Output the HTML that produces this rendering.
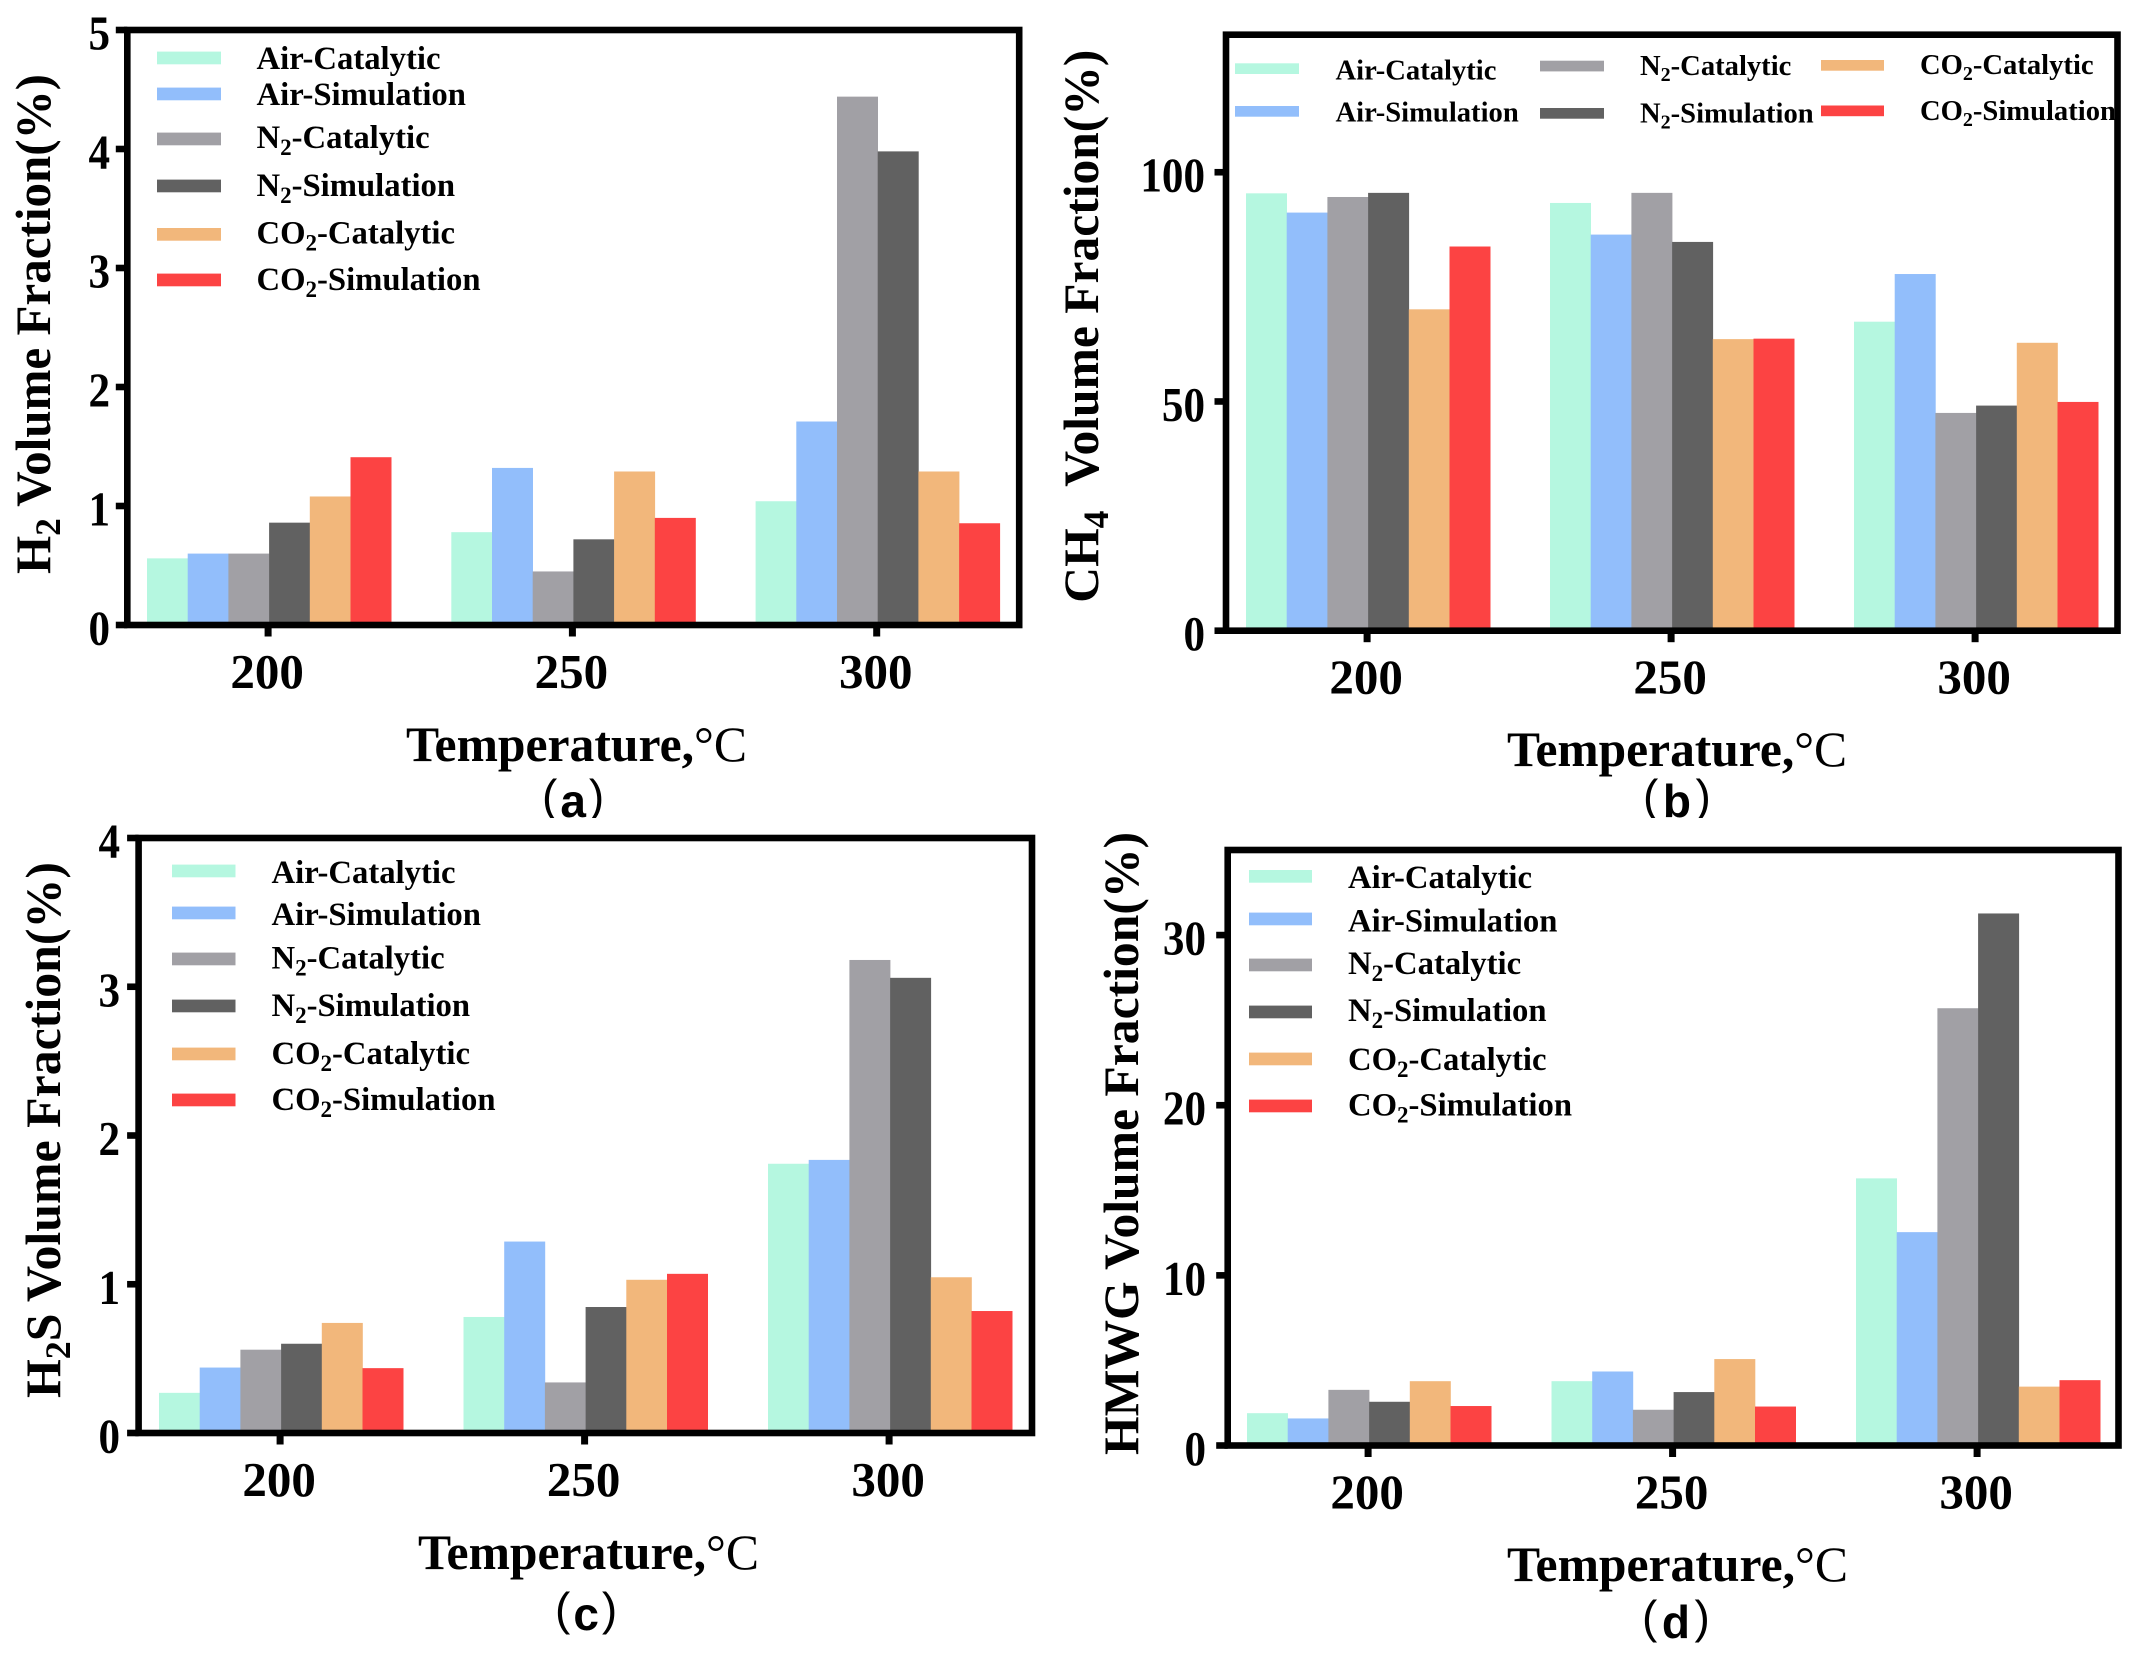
<!DOCTYPE html>
<html lang="en">
<head>
<meta charset="utf-8">
<title>Gas volume fractions versus temperature</title>
<style>
  html, body { margin: 0; padding: 0; background: #fff; }
  svg { display: block; }
  text { font-family: "Liberation Serif", "Noto Serif CJK SC", serif; font-weight: bold; fill: #000; }
  .leg { font-size: 32.7px; }
  .legb { font-size: 28.6px; }
  .ytitle, .xtitle { font-size: 50px; }
  .deg { font-weight: normal; }
  .cap { font-family: "Liberation Sans", "Noto Sans CJK SC", sans-serif; font-size: 46px; }
  .par { font-weight: normal; }
  .tick { font-size: 49px; }
  .c1 { fill: #B5F7E0; } .c2 { fill: #92BEFB; } .c3 { fill: #A1A0A5; }
  .c4 { fill: #616161; } .c5 { fill: #F2B77B; } .c6 { fill: #FC4343; }
</style>
</head>
<body>
<svg id="figure" xmlns="http://www.w3.org/2000/svg" width="2141" height="1658" viewBox="0 0 2141 1658">
  <rect width="2141" height="1658" fill="#fff"/>

  <!-- captions -->
  <text class="cap" x="542" y="817"><tspan class="par" dy="-5">(</tspan><tspan dx="3" dy="5">a</tspan><tspan class="par" dx="3" dy="-5">)</tspan></text>
  <text class="cap" x="1643" y="817"><tspan class="par" dy="-5">(</tspan><tspan dx="4.5" dy="5">b</tspan><tspan class="par" dx="4.5" dy="-5">)</tspan></text>
  <rect x="530" y="818" width="90" height="16" fill="#fff"/>
  <rect x="1630" y="818" width="95" height="16" fill="#fff"/>
  <text class="cap" x="555" y="1630"><tspan class="par" dy="-5">(</tspan><tspan dx="3" dy="5">c</tspan><tspan class="par" dx="3" dy="-5">)</tspan></text>
  <text class="cap" x="1642" y="1638"><tspan class="par" dy="-5">(</tspan><tspan dx="4.5" dy="5">d</tspan><tspan class="par" dx="4.5" dy="-5">)</tspan></text>

  <!-- panel a -->
  <g id="panel-a">
    <g id="marks-a"></g>
    <text class="ytitle" transform="translate(50,574) rotate(-90)" textLength="500" lengthAdjust="spacingAndGlyphs">H<tspan font-size="36" dy="10">2</tspan><tspan dy="-10"> Volume Fraction(%)</tspan></text>
    <text class="xtitle" x="406" y="761" textLength="341" lengthAdjust="spacingAndGlyphs">Temperature,<tspan class="deg">°C</tspan></text>
    <g>
      <rect class="c1" x="157" y="51.6" width="64" height="12.7"/>
      <text class="leg" x="256.5" y="69">Air-Catalytic</text>
      <rect class="c2" x="157" y="87.6" width="64" height="12.7"/>
      <text class="leg" x="256.5" y="105">Air-Simulation</text>
      <rect class="c3" x="157" y="132.6" width="64" height="12.7"/>
      <text class="leg" x="256.5" y="148">N<tspan font-size="23" dy="7">2</tspan><tspan dy="-7">-Catalytic</tspan></text>
      <rect class="c4" x="157" y="179.6" width="64" height="12.7"/>
      <text class="leg" x="256.5" y="196">N<tspan font-size="23" dy="7">2</tspan><tspan dy="-7">-Simulation</tspan></text>
      <rect class="c5" x="157" y="228" width="64" height="12.7"/>
      <text class="leg" x="256.5" y="243.5">CO<tspan font-size="23" dy="7">2</tspan><tspan dy="-7">-Catalytic</tspan></text>
      <rect class="c6" x="157" y="273.6" width="64" height="12.7"/>
      <text class="leg" x="256.5" y="290">CO<tspan font-size="23" dy="7">2</tspan><tspan dy="-7">-Simulation</tspan></text>
    </g>
  </g>

  <!-- panel b -->
  <g id="panel-b">
    <g id="marks-b"></g>
    <text class="ytitle" transform="translate(1098,602.7) rotate(-90)" textLength="553" lengthAdjust="spacingAndGlyphs">CH<tspan font-size="36" dy="10">4</tspan><tspan dy="-10">&#160; Volume Fraction(%)</tspan></text>
    <text class="xtitle" x="1507" y="766" textLength="340" lengthAdjust="spacingAndGlyphs">Temperature,<tspan class="deg">°C</tspan></text>
    <g>
      <rect class="c1" x="1235" y="63.3" width="64" height="10.7"/>
      <text class="legb" x="1335.5" y="79.3">Air-Catalytic</text>
      <rect class="c2" x="1235" y="106" width="64" height="10.7"/>
      <text class="legb" x="1335.5" y="121.7">Air-Simulation</text>
      <rect class="c3" x="1540" y="60.7" width="64" height="10.7"/>
      <text class="legb" x="1640" y="75">N<tspan font-size="20" dy="6">2</tspan><tspan dy="-6">-Catalytic</tspan></text>
      <rect class="c4" x="1540" y="108" width="64" height="10.7"/>
      <text class="legb" x="1640" y="122.5">N<tspan font-size="20" dy="6">2</tspan><tspan dy="-6">-Simulation</tspan></text>
      <rect class="c5" x="1821" y="60" width="63" height="10.7"/>
      <text class="legb" x="1920" y="74">CO<tspan font-size="20" dy="6">2</tspan><tspan dy="-6">-Catalytic</tspan></text>
      <rect class="c6" x="1821" y="105.5" width="63" height="10.7"/>
      <text class="legb" x="1920" y="120">CO<tspan font-size="20" dy="6">2</tspan><tspan dy="-6">-Simulation</tspan></text>
    </g>
  </g>

  <!-- panel c -->
  <g id="panel-c">
    <g id="marks-c"></g>
    <text class="ytitle" transform="translate(60,1398) rotate(-90)" textLength="536" lengthAdjust="spacingAndGlyphs">H<tspan font-size="36" dy="10">2</tspan><tspan dy="-10">S Volume Fraction(%)</tspan></text>
    <text class="xtitle" x="418" y="1569" textLength="341" lengthAdjust="spacingAndGlyphs">Temperature,<tspan class="deg">°C</tspan></text>
    <g>
      <rect class="c1" x="172" y="864.6" width="63.5" height="12.7"/>
      <text class="leg" x="271.5" y="883">Air-Catalytic</text>
      <rect class="c2" x="172" y="906.6" width="63.5" height="12.7"/>
      <text class="leg" x="271.5" y="925">Air-Simulation</text>
      <rect class="c3" x="172" y="952.6" width="63.5" height="12.7"/>
      <text class="leg" x="271.5" y="968.5">N<tspan font-size="23" dy="7">2</tspan><tspan dy="-7">-Catalytic</tspan></text>
      <rect class="c4" x="172" y="999.6" width="63.5" height="12.7"/>
      <text class="leg" x="271.5" y="1016">N<tspan font-size="23" dy="7">2</tspan><tspan dy="-7">-Simulation</tspan></text>
      <rect class="c5" x="172" y="1047.6" width="63.5" height="12.7"/>
      <text class="leg" x="271.5" y="1064">CO<tspan font-size="23" dy="7">2</tspan><tspan dy="-7">-Catalytic</tspan></text>
      <rect class="c6" x="172" y="1093.6" width="63.5" height="12.7"/>
      <text class="leg" x="271.5" y="1110">CO<tspan font-size="23" dy="7">2</tspan><tspan dy="-7">-Simulation</tspan></text>
    </g>
  </g>

  <!-- panel d -->
  <g id="panel-d">
    <g id="marks-d"></g>
    <text class="ytitle" transform="translate(1138,1455) rotate(-90)" textLength="623" lengthAdjust="spacingAndGlyphs">HMWG Volume Fraction(%)</text>
    <text class="xtitle" x="1507" y="1581" textLength="341" lengthAdjust="spacingAndGlyphs">Temperature,<tspan class="deg">°C</tspan></text>
    <g>
      <rect class="c1" x="1249" y="870" width="63" height="12.7"/>
      <text class="leg" x="1348" y="888">Air-Catalytic</text>
      <rect class="c2" x="1249" y="912.6" width="63" height="12.7"/>
      <text class="leg" x="1348" y="931.5">Air-Simulation</text>
      <rect class="c3" x="1249" y="958.6" width="63" height="12.7"/>
      <text class="leg" x="1348" y="974">N<tspan font-size="23" dy="7">2</tspan><tspan dy="-7">-Catalytic</tspan></text>
      <rect class="c4" x="1249" y="1005.6" width="63" height="12.7"/>
      <text class="leg" x="1348" y="1021">N<tspan font-size="23" dy="7">2</tspan><tspan dy="-7">-Simulation</tspan></text>
      <rect class="c5" x="1249" y="1052.6" width="63" height="12.7"/>
      <text class="leg" x="1348" y="1070">CO<tspan font-size="23" dy="7">2</tspan><tspan dy="-7">-Catalytic</tspan></text>
      <rect class="c6" x="1249" y="1099.6" width="63" height="12.7"/>
      <text class="leg" x="1348" y="1115.5">CO<tspan font-size="23" dy="7">2</tspan><tspan dy="-7">-Simulation</tspan></text>
    </g>
  </g>
</svg>

<script>
// Shared categories and series keys
const categories = [200, 250, 300];
const seriesKeys = ['air-catalytic', 'air-simulation', 'n2-catalytic', 'n2-simulation', 'co2-catalytic', 'co2-simulation'];
const seriesClasses = ['c1', 'c2', 'c3', 'c4', 'c5', 'c6'];

// Panel (a) H2
const h2Ticks = [0, 1, 2, 3, 4, 5];
const h2AirCatalytic = [0.56, 0.78, 1.04];
const h2AirSimulation = [0.60, 1.32, 1.71];
const h2N2Catalytic = [0.60, 0.45, 4.44];
const h2N2Simulation = [0.86, 0.72, 3.98];
const h2Co2Catalytic = [1.08, 1.29, 1.29];
const h2Co2Simulation = [1.41, 0.90, 0.855];

// Panel (b) CH4
const ch4Ticks = [0, 50, 100];
const ch4AirCatalytic = [95.4, 93.3, 67.4];
const ch4AirSimulation = [91.2, 86.4, 77.8];
const ch4N2Catalytic = [94.6, 95.5, 47.5];
const ch4N2Simulation = [95.5, 84.8, 49.1];
const ch4Co2Catalytic = [70.1, 63.6, 62.8];
const ch4Co2Simulation = [83.8, 63.7, 49.9];

// Panel (c) H2S
const h2sTicks = [0, 1, 2, 3, 4];
const h2sAirCatalytic = [0.27, 0.78, 1.81];
const h2sAirSimulation = [0.44, 1.287, 1.836];
const h2sN2Catalytic = [0.56, 0.34, 3.18];
const h2sN2Simulation = [0.60, 0.847, 3.06];
const h2sCo2Catalytic = [0.74, 1.03, 1.047];
const h2sCo2Simulation = [0.436, 1.07, 0.82];

// Panel (d) HMWG
const hmwgTicks = [0, 10, 20, 30];
const hmwgAirCatalytic = [1.9, 3.78, 15.7];
const hmwgAirSimulation = [1.59, 4.35, 12.54];
const hmwgN2Catalytic = [3.27, 2.1, 25.7];
const hmwgN2Simulation = [2.57, 3.14, 31.27];
const hmwgCo2Catalytic = [3.78, 5.08, 3.46];
const hmwgCo2Simulation = [2.32, 2.29, 3.84];

const SVG_NS = 'http://www.w3.org/2000/svg';

function drawPanel(cfg, ticks, series) {
  const root = document.getElementById(cfg.id);
  const barW = cfg.barW;
  const xBar = function (g, s) { return cfg.barStart + g * cfg.step + s * barW; };
  const xTick = function (g) { return xBar(g, 3) - 1; };
  const yVal = function (v) { return cfg.bottom - (v / cfg.yMax) * (cfg.bottom - cfg.top); };
  const SP = 6.6;

  series.forEach(function (vals, s) {
    vals.forEach(function (v, g) {
      const bar = document.createElementNS(SVG_NS, 'rect');
      bar.setAttribute('class', seriesClasses[s]);
      bar.setAttribute('x', xBar(g, s));
      bar.setAttribute('y', yVal(v));
      bar.setAttribute('width', barW + 0.3);
      bar.setAttribute('height', cfg.bottom - yVal(v));
      
      
      root.appendChild(bar);
    });
  });

  // Frame
  const frame = document.createElementNS(SVG_NS, 'rect');
  frame.setAttribute('x', cfg.left);
  frame.setAttribute('y', cfg.top);
  frame.setAttribute('width', cfg.right - cfg.left);
  frame.setAttribute('height', cfg.bottom - cfg.top);
  frame.setAttribute('fill', 'none');
  frame.setAttribute('stroke', '#000');
  frame.setAttribute('stroke-width', SP);
  
  
  root.appendChild(frame);

  // Y axis ticks
  ticks.forEach(function (t) {
    const y = yVal(t);
    const mark = document.createElementNS(SVG_NS, 'rect');
    mark.setAttribute('x', cfg.left - 11.5);
    mark.setAttribute('y', y - SP / 2);
    mark.setAttribute('width', 11.5);
    mark.setAttribute('height', SP);
    
    
    root.appendChild(mark);

    const label = document.createElementNS(SVG_NS, 'text');
    label.setAttribute('class', 'tick');
    label.setAttribute('transform', 'translate(' + cfg.yLabelX + ',' + (y + 19.5) + ') scale(0.88,1)');
    label.setAttribute('text-anchor', 'end');
    
    
    label.textContent = t;
    root.appendChild(label);
  });

  // X axis ticks
  categories.forEach(function (c, g) {
    const x = xTick(g);
    const mark = document.createElementNS(SVG_NS, 'rect');
    mark.setAttribute('x', x - 3.5);
    mark.setAttribute('y', cfg.bottom);
    mark.setAttribute('width', 7);
    mark.setAttribute('height', 11.5);
    
    
    root.appendChild(mark);

    const label = document.createElementNS(SVG_NS, 'text');
    label.setAttribute('class', 'tick');
    label.setAttribute('x', x - 1);
    label.setAttribute('y', cfg.bottom + 63);
    label.setAttribute('text-anchor', 'middle');
    
    
    label.textContent = c;
    root.appendChild(label);
  });
}

drawPanel({ id: 'marks-a', left: 127.3, right: 1019.2, top: 30, bottom: 625, barStart: 147, step: 304.3, barW: 40.7, yMax: 5, yLabelX: 110 },
  h2Ticks, [h2AirCatalytic, h2AirSimulation, h2N2Catalytic, h2N2Simulation, h2Co2Catalytic, h2Co2Simulation]);
drawPanel({ id: 'marks-b', left: 1226, right: 2117.5, top: 34.7, bottom: 630.7, barStart: 1246, step: 304, barW: 40.7, yMax: 130, yLabelX: 1205 },
  ch4Ticks, [ch4AirCatalytic, ch4AirSimulation, ch4N2Catalytic, ch4N2Simulation, ch4Co2Catalytic, ch4Co2Simulation]);
drawPanel({ id: 'marks-c', left: 138.6, right: 1032, top: 838, bottom: 1433, barStart: 159, step: 304.5, barW: 40.7, yMax: 4, yLabelX: 120 },
  h2sTicks, [h2sAirCatalytic, h2sAirSimulation, h2sN2Catalytic, h2sN2Simulation, h2sCo2Catalytic, h2sCo2Simulation]);
drawPanel({ id: 'marks-d', left: 1227.7, right: 2118.5, top: 850, bottom: 1445.5, barStart: 1247, step: 304.5, barW: 40.7, yMax: 35, yLabelX: 1206 },
  hmwgTicks, [hmwgAirCatalytic, hmwgAirSimulation, hmwgN2Catalytic, hmwgN2Simulation, hmwgCo2Catalytic, hmwgCo2Simulation]);
</script>
</body>
</html>
